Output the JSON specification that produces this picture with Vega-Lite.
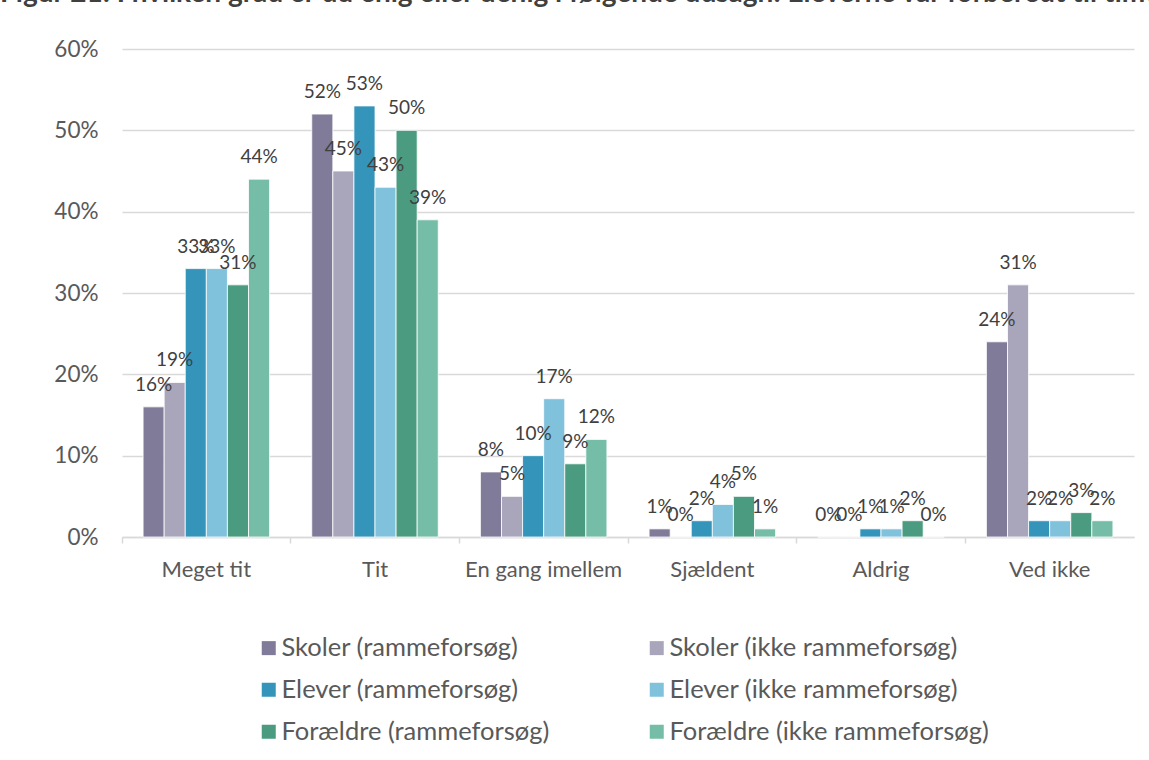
{
  "$schema": "https://vega.github.io/schema/vega-lite/v6.json",
  "width": 1012,
  "height": 488,
  "autosize": {"type": "none"},
  "padding": {"left": 122, "top": 49, "right": 15, "bottom": 223},
  "background": "white",
  "config": {"view": {"stroke": null}},
  "title": {
    "text": "Figur 21: I hvilken grad er du enig eller uenig i følgende udsagn: Eleverne var forberedt til timen",
    "anchor": "start",
    "frame": "group",
    "dx": -122,
    "offset": 30,
    "font": "Lato",
    "fontSize": 28,
    "fontWeight": "bold",
    "color": "#404040"
  },
  "data": {
    "values": [
      {"cat": "Meget tit", "group": "Skoler (rammeforsøg)", "value": 0.16},
      {"cat": "Meget tit", "group": "Skoler (ikke rammeforsøg)", "value": 0.19},
      {"cat": "Meget tit", "group": "Elever (rammeforsøg)", "value": 0.33},
      {"cat": "Meget tit", "group": "Elever (ikke rammeforsøg)", "value": 0.33},
      {"cat": "Meget tit", "group": "Forældre (rammeforsøg)", "value": 0.31},
      {"cat": "Meget tit", "group": "Forældre (ikke rammeforsøg)", "value": 0.44},
      {"cat": "Tit", "group": "Skoler (rammeforsøg)", "value": 0.52},
      {"cat": "Tit", "group": "Skoler (ikke rammeforsøg)", "value": 0.45},
      {"cat": "Tit", "group": "Elever (rammeforsøg)", "value": 0.53},
      {"cat": "Tit", "group": "Elever (ikke rammeforsøg)", "value": 0.43},
      {"cat": "Tit", "group": "Forældre (rammeforsøg)", "value": 0.50},
      {"cat": "Tit", "group": "Forældre (ikke rammeforsøg)", "value": 0.39},
      {"cat": "En gang imellem", "group": "Skoler (rammeforsøg)", "value": 0.08},
      {"cat": "En gang imellem", "group": "Skoler (ikke rammeforsøg)", "value": 0.05},
      {"cat": "En gang imellem", "group": "Elever (rammeforsøg)", "value": 0.10},
      {"cat": "En gang imellem", "group": "Elever (ikke rammeforsøg)", "value": 0.17},
      {"cat": "En gang imellem", "group": "Forældre (rammeforsøg)", "value": 0.09},
      {"cat": "En gang imellem", "group": "Forældre (ikke rammeforsøg)", "value": 0.12},
      {"cat": "Sjældent", "group": "Skoler (rammeforsøg)", "value": 0.01},
      {"cat": "Sjældent", "group": "Skoler (ikke rammeforsøg)", "value": 0.0},
      {"cat": "Sjældent", "group": "Elever (rammeforsøg)", "value": 0.02},
      {"cat": "Sjældent", "group": "Elever (ikke rammeforsøg)", "value": 0.04},
      {"cat": "Sjældent", "group": "Forældre (rammeforsøg)", "value": 0.05},
      {"cat": "Sjældent", "group": "Forældre (ikke rammeforsøg)", "value": 0.01},
      {"cat": "Aldrig", "group": "Skoler (rammeforsøg)", "value": 0.0},
      {"cat": "Aldrig", "group": "Skoler (ikke rammeforsøg)", "value": 0.0},
      {"cat": "Aldrig", "group": "Elever (rammeforsøg)", "value": 0.01},
      {"cat": "Aldrig", "group": "Elever (ikke rammeforsøg)", "value": 0.01},
      {"cat": "Aldrig", "group": "Forældre (rammeforsøg)", "value": 0.02},
      {"cat": "Aldrig", "group": "Forældre (ikke rammeforsøg)", "value": 0.0},
      {"cat": "Ved ikke", "group": "Skoler (rammeforsøg)", "value": 0.24},
      {"cat": "Ved ikke", "group": "Skoler (ikke rammeforsøg)", "value": 0.31},
      {"cat": "Ved ikke", "group": "Elever (rammeforsøg)", "value": 0.02},
      {"cat": "Ved ikke", "group": "Elever (ikke rammeforsøg)", "value": 0.02},
      {"cat": "Ved ikke", "group": "Forældre (rammeforsøg)", "value": 0.03},
      {"cat": "Ved ikke", "group": "Forældre (ikke rammeforsøg)", "value": 0.02}
    ]
  },
  "encoding": {
    "x": {
      "field": "cat",
      "type": "nominal",
      "sort": ["Meget tit", "Tit", "En gang imellem", "Sjældent", "Aldrig", "Ved ikke"],
      "scale": {"paddingInner": 0, "paddingOuter": 0},
      "axis": {
        "title": null,
        "labelAngle": 0,
        "labelFont": "Lato",
        "labelFontSize": 22,
        "labelColor": "#595959",
        "labelPadding": 16,
        "domainColor": "#D9D9D9",
        "domainWidth": 1.5,
        "tickColor": "#D9D9D9",
        "tickWidth": 1.5,
        "tickSize": 6,
        "bandPosition": 0,
        "grid": false
      }
    },
    "xOffset": {
      "field": "group",
      "type": "nominal",
      "sort": ["Skoler (rammeforsøg)", "Skoler (ikke rammeforsøg)", "Elever (rammeforsøg)", "Elever (ikke rammeforsøg)", "Forældre (rammeforsøg)", "Forældre (ikke rammeforsøg)"],
      "scale": {"paddingInner": 0, "paddingOuter": 1.114}
    },
    "y": {
      "field": "value",
      "type": "quantitative",
      "scale": {"domain": [0, 0.6]},
      "axis": {
        "title": null,
        "format": ".0%",
        "values": [0, 0.1, 0.2, 0.3, 0.4, 0.5, 0.6],
        "labelFont": "Lato",
        "labelFontSize": 22.5,
        "labelColor": "#595959",
        "labelPadding": 24,
        "ticks": false,
        "domain": false,
        "gridColor": "#D9D9D9",
        "gridWidth": 1.5
      }
    }
  },
  "layer": [
    {
      "mark": {"type": "bar", "stroke": "white", "strokeWidth": 0.8},
      "encoding": {
        "color": {
          "field": "group",
          "type": "nominal",
          "scale": {
            "domain": ["Skoler (rammeforsøg)", "Elever (rammeforsøg)", "Forældre (rammeforsøg)", "Skoler (ikke rammeforsøg)", "Elever (ikke rammeforsøg)", "Forældre (ikke rammeforsøg)"],
            "range": ["#7F7B99", "#3494BA", "#4A9B7F", "#A9A6BC", "#80C1DB", "#75BDA7"]
          },
          "legend": {
            "title": null,
            "orient": "none",
            "legendX": 134,
            "legendY": 586,
            "columns": 2,
            "columnPadding": 94,
            "rowPadding": 15,
            "symbolType": "square",
            "symbolSize": 196,
            "symbolStrokeWidth": 0,
            "labelFont": "Lato",
            "labelFontSize": 25.5,
            "labelColor": "#595959",
            "labelOffset": 0,
            "labelLimit": 500
          }
        }
      }
    },
    {
      "mark": {"type": "text", "baseline": "middle", "dy": -22, "font": "Lato", "fontSize": 19, "color": "#404040"},
      "encoding": {
        "text": {"field": "value", "type": "quantitative", "format": ".0%"}
      }
    }
  ]
}
